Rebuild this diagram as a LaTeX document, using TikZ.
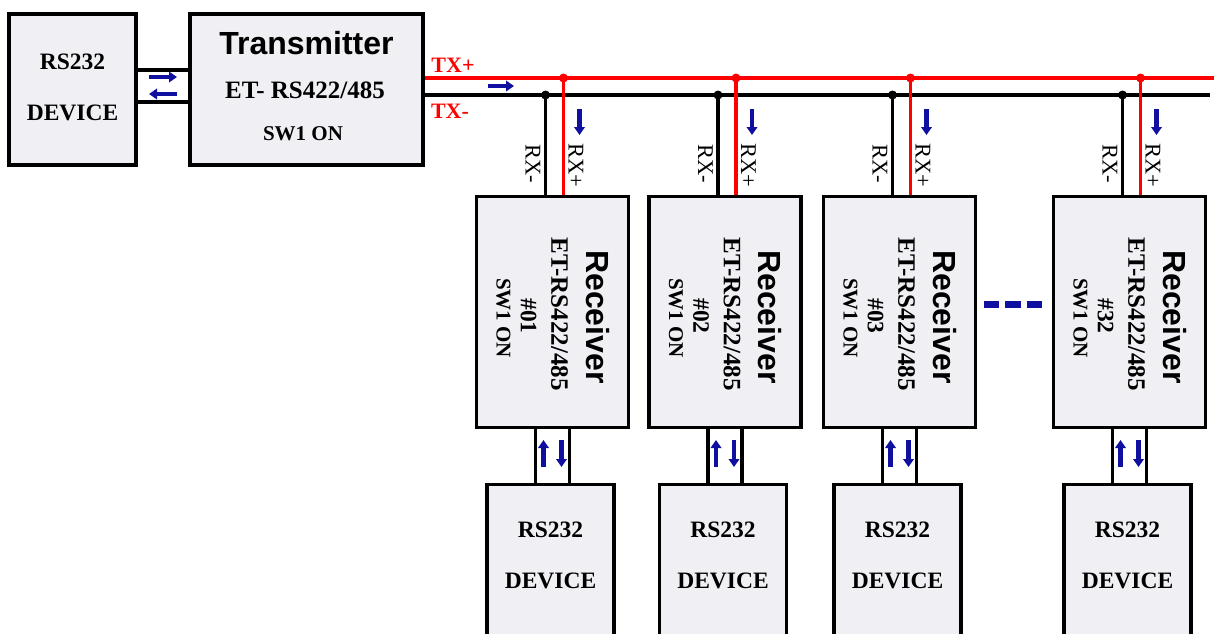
\documentclass[tikz,border=0pt]{standalone}
\usepackage{fontspec}
\setmainfont{Liberation Serif}
\setsansfont{Liberation Sans}
\usetikzlibrary{arrows.meta,calc}
\definecolor{boxfill}{RGB}{240,239,243}
\definecolor{busred}{RGB}{255,0,0}
\definecolor{arrblue}{RGB}{16,16,160}
\tikzset{
  box/.style={draw=black, line width=3.3pt, fill=boxfill, inner sep=0pt},
  wire/.style={draw=black, line width=3.3pt},
  redwire/.style={draw=busred, line width=3.3pt},
  lbl/.style={font=\bfseries\fontsize{23.5}{25}\selectfont, inner sep=0pt},
  etlbl/.style={font=\bfseries\fontsize{25}{27}\selectfont, inner sep=0pt},
  swlbl/.style={font=\bfseries\fontsize{21}{23}\selectfont, inner sep=0pt},
  title/.style={font=\sffamily\bfseries\fontsize{32}{34}\selectfont, inner sep=0pt},
  rxlbl/.style={font=\fontsize{22.5}{24}\selectfont, inner sep=0pt, rotate=-90},
  txlbl/.style={font=\bfseries\fontsize{22}{24}\selectfont, text=busred, inner sep=0pt},
  barrow/.style={draw=arrblue, line width=4.5pt, -{Triangle[length=8pt,width=10.5pt]}},
  dot/.style={circle, inner sep=0pt, minimum size=9pt},
  dashbox/.style={fill=arrblue, draw=none}
}
\begin{document}
\begin{tikzpicture}[x=1pt,y=-1pt]
\useasboundingbox (0,0) rectangle (1218,633);
\clip (0,0) rectangle (1218,633);
% left RS232 device and transmitter
\node[box, minimum width=127pt, minimum height=151pt] (L) at (72.5,89.5) {};
\node[lbl] (Lt1) at (72.5,62) {RS232};
\node[lbl] (Lt2) at (72.5,113) {DEVICE};
\node[box, minimum width=233pt, minimum height=151pt] (T) at (306.5,89.5) {};
\node[title] (Tt1) at (306.5,43) {Transmitter};
\node[etlbl] (Tt2) at (305,90) {ET- RS422/485};
\node[swlbl] (Tt3) at (303,134) {SW1 ON};
% link device - transmitter
\draw[wire] ([yshift=19.5pt]L.east) -- ([yshift=19.5pt]T.west);
\draw[wire] ([yshift=-12.5pt]L.east) -- ([yshift=-12.5pt]T.west);
\coordinate (la1) at (149,77); \coordinate (la2) at (177,77);
\coordinate (lb1) at (177,94); \coordinate (lb2) at (149,94);
\draw[barrow] (la1) -- (la2);
\draw[barrow] (lb1) -- (lb2);
% bus
\coordinate (busP) at (1214,78);
\coordinate (busM) at (1210,95);
\draw[wire] ([yshift=-5.5pt]T.east) -- (busM);
\draw[redwire] ([yshift=11.5pt]T.east) -- (busP);
\node[txlbl] (txp) at (453,65) {TX+};
\node[txlbl] (txm) at (450,111) {TX-};
\coordinate (ta1) at (488,86); \coordinate (ta2) at (514,86);
\draw[barrow] (ta1) -- (ta2);
% receivers
\foreach \c/\n/\lab in {552.5/1/01, 725/2/02, 899.5/3/03, 1129.5/4/32}{
  \node[box, minimum width=152pt, minimum height=231pt] (R\n) at (\c,312) {};
  \node[title, rotate=-90] (Rt1\n) at (\c+45,317) {Receiver};
  \node[etlbl, rotate=-90] (Rt2\n) at (\c+7,314) {ET-RS422/485};
  \node[lbl, rotate=-90] (Rt3\n) at (\c-24,316) {\#\lab};
  \node[swlbl, rotate=-90] (Rt4\n) at (\c-49,318) {SW1 ON};
  \node[box, minimum width=127pt, minimum height=151pt, anchor=north] (D\n) at (\c-2,482.5) {};
  \node[lbl] (Dt1\n) at (\c-2,530) {RS232};
  \node[lbl] (Dt2\n) at (\c-2,581) {DEVICE};
  \draw[wire] ([xshift=-17pt]R\n.south) -- ([xshift=-15pt]D\n.north);
  \draw[wire] ([xshift=17pt]R\n.south) -- ([xshift=19pt]D\n.north);
  \coordinate (ua\n) at (\c-9,467); \coordinate (ub\n) at (\c-9,440);
  \coordinate (va\n) at (\c+9,440); \coordinate (vb\n) at (\c+9,467);
  \draw[barrow] (ua\n) -- (ub\n);
  \draw[barrow] (va\n) -- (vb\n);
  \coordinate (jm\n) at (\c-7,95);
  \coordinate (jp\n) at (\c+11,78);
  \draw[wire] (jm\n) -- (jm\n |- R\n.north);
  \draw[redwire] (jp\n) -- (jp\n |- R\n.north);
  \node[dot, fill=black] (djm\n) at (jm\n) {};
  \node[dot, fill=busred] (djp\n) at (jp\n) {};
  \node[rxlbl] (rxm\n) at (\c-19.5,164) {RX-};
  \node[rxlbl] (rxp\n) at (\c+23.5,165) {RX+};
  \coordinate (ra\n) at (\c+27,109); \coordinate (rb\n) at (\c+27,135);
  \draw[barrow] (ra\n) -- (rb\n);
}
% dots between receiver 3 and 32
\fill[dashbox] (984,301) rectangle (999,308);
\fill[dashbox] (1005,301) rectangle (1021,308);
\fill[dashbox] (1027,301) rectangle (1042,308);
\end{tikzpicture}
\end{document}
